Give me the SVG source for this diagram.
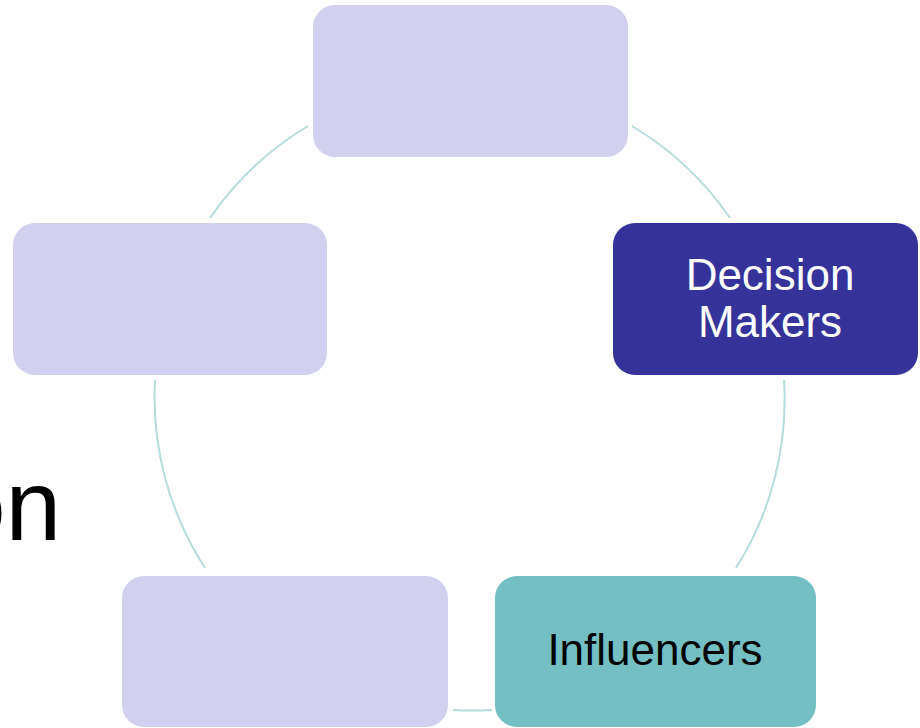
<svg xmlns="http://www.w3.org/2000/svg" width="920" height="728" viewBox="0 0 920 728">
<style>
.arc{fill:none;stroke:#b5dcdd;stroke-width:2}
.light{fill:#d1d1ef}
.lbl{font-family:"Liberation Sans",Arial,sans-serif;font-size:44px;text-anchor:middle}
</style>
<rect width="920" height="728" fill="#ffffff"/>
<text x="-50" y="540" font-family="Liberation Sans, Arial, sans-serif" font-size="100" fill="#000000">on</text>
<g id="connectors">
<path class="arc" d="M632,126 A315,315 0 0 1 730,218"/>
<path class="arc" d="M784,380 A315,315 0 0 1 736,568"/>
<path class="arc" d="M492,710 A315,315 0 0 1 453,710"/>
<path class="arc" d="M205,568 A315,315 0 0 1 155,380"/>
<path class="arc" d="M210,218 A315,315 0 0 1 308,126"/>
</g>
<g id="node-top"><rect class="light" x="313" y="5" width="315" height="152" rx="22"/></g>
<g id="node-decision-makers">
<rect x="613" y="223" width="305" height="152" rx="22" fill="#353399"/>
<text class="lbl" x="770" y="290" fill="#ffffff">Decision</text>
<text class="lbl" x="770" y="337" fill="#ffffff">Makers</text>
</g>
<g id="node-influencers">
<rect x="495" y="576" width="321" height="151" rx="22" fill="#73bfc4"/>
<text class="lbl" x="655" y="665" fill="#000000">Influencers</text>
</g>
<g id="node-bottom-left"><rect class="light" x="122" y="576" width="326" height="151" rx="22"/></g>
<g id="node-left"><rect class="light" x="13" y="223" width="314" height="152" rx="22"/></g>
</svg>
